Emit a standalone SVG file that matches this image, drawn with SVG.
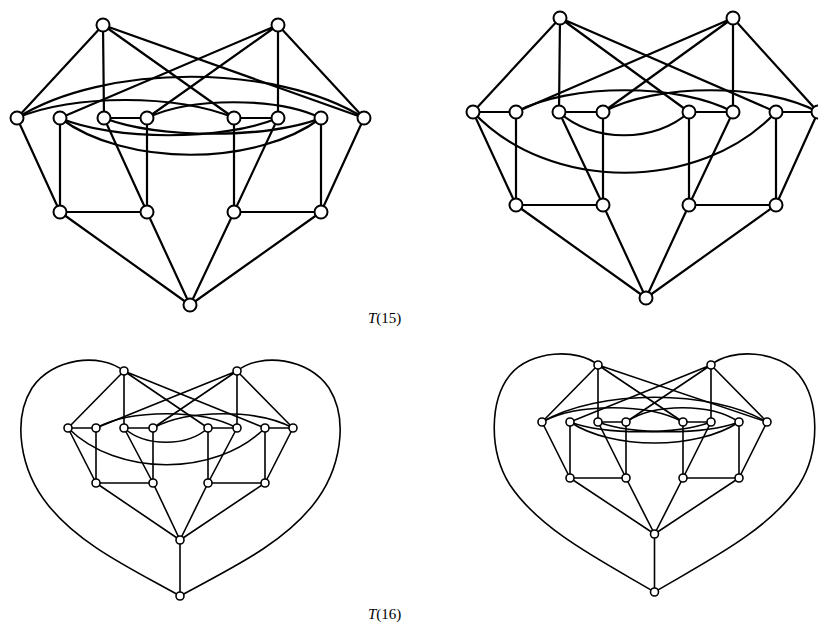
<svg xmlns="http://www.w3.org/2000/svg" width="818" height="628" viewBox="0 0 818 628">
<style>
.bg{fill:#fff}
.e1{stroke:#000;stroke-width:2.2;fill:none;stroke-linecap:round}
.e2{stroke:#000;stroke-width:1.6;fill:none;stroke-linecap:round}
.n1{fill:#fff;stroke:#000;stroke-width:2}
.n2{fill:#fff;stroke:#000;stroke-width:1.6}
.lbl{font-family:"Liberation Serif","Times New Roman",serif;font-size:15px;fill:#000}
</style>
<rect class="bg" x="0" y="0" width="818" height="628"/>

<!-- Graph 1 (T15 left) -->
<g id="connectors-g1" class="e1">
<path d="M103,25L17,118M103,25L104,118M103,25L234,118M103,25L364,118"/>
<path d="M278,25L60,118M278,25L147,118M278,25L278,118M278,25L364,118"/>
<path d="M104,118L147,118M234,118L278,118"/>
<path d="M60,118L60,212M147,118L147,212M234,118L234,212M321,118L321,212"/>
<path d="M17,118L60,212M104,118L147,212M278,118L234,212M364,118L321,212"/>
<path d="M60,212L147,212M234,212L321,212"/>
<path d="M60,212L190,305M147,212L190,305M234,212L190,305M321,212L190,305"/>
<path d="M17,118C104,63 277,63 364,118"/>
<path d="M17,118C71,94 180,94 234,118"/>
<path d="M147,118C190,97 277,97 321,118"/>
<path d="M60,118C125,167 256,167 321,118"/>
<path d="M60,118C114,141 223,141 278,118"/>
<path d="M104,118C158,139 267,139 321,118"/>
</g>
<g id="nodes-g1" class="n1">
<circle id="g1-a" cx="103" cy="25" r="6.5"/>
<circle id="g1-b" cx="278" cy="25" r="6.5"/>
<circle id="g1-m1" cx="17" cy="118" r="6.5"/>
<circle id="g1-m2" cx="60" cy="118" r="6.5"/>
<circle id="g1-m3" cx="104" cy="118" r="6.5"/>
<circle id="g1-m4" cx="147" cy="118" r="6.5"/>
<circle id="g1-m5" cx="234" cy="118" r="6.5"/>
<circle id="g1-m6" cx="278" cy="118" r="6.5"/>
<circle id="g1-m7" cx="321" cy="118" r="6.5"/>
<circle id="g1-m8" cx="364" cy="118" r="6.5"/>
<circle id="g1-n1" cx="60" cy="212" r="6.5"/>
<circle id="g1-n2" cx="147" cy="212" r="6.5"/>
<circle id="g1-n3" cx="234" cy="212" r="6.5"/>
<circle id="g1-n4" cx="321" cy="212" r="6.5"/>
<circle id="g1-z" cx="190" cy="305" r="6.5"/>
</g>

<!-- Graph 2 (T15 right) -->
<g id="connectors-g2" class="e1">
<path d="M560,18L473,112M560,18L559,112M560,18L689,112M560,18L776,112"/>
<path d="M733,18L516,112M733,18L603,112M733,18L733,112M733,18L818,112"/>
<path d="M473,112L516,112M559,112L603,112M689,112L733,112M776,112L818,112"/>
<path d="M516,112L516,205M603,112L603,205M689,112L689,205M776,112L776,205"/>
<path d="M473,112L516,205M559,112L603,205M733,112L689,205M818,112L776,205"/>
<path d="M516,205L603,205M689,205L776,205"/>
<path d="M516,205L646,298M603,205L646,298M689,205L646,298M776,205L646,298"/>
<path d="M516,112C570,83 679,83 733,112"/>
<path d="M603,112C657,83 764,83 818,112"/>
<path d="M559,112C592,143 656,143 689,112"/>
<path d="M473,112C549,193 700,193 776,112"/>
</g>
<g id="nodes-g2" class="n1">
<circle id="g2-a" cx="560" cy="18" r="6.5"/>
<circle id="g2-b" cx="733" cy="18" r="6.5"/>
<circle id="g2-m1" cx="473" cy="112" r="6.5"/>
<circle id="g2-m2" cx="516" cy="112" r="6.5"/>
<circle id="g2-m3" cx="559" cy="112" r="6.5"/>
<circle id="g2-m4" cx="603" cy="112" r="6.5"/>
<circle id="g2-m5" cx="689" cy="112" r="6.5"/>
<circle id="g2-m6" cx="733" cy="112" r="6.5"/>
<circle id="g2-m7" cx="776" cy="112" r="6.5"/>
<circle id="g2-m8" cx="818" cy="112" r="6.5"/>
<circle id="g2-n1" cx="516" cy="205" r="6.5"/>
<circle id="g2-n2" cx="603" cy="205" r="6.5"/>
<circle id="g2-n3" cx="689" cy="205" r="6.5"/>
<circle id="g2-n4" cx="776" cy="205" r="6.5"/>
<circle id="g2-z" cx="646" cy="298" r="6.5"/>
</g>

<!-- Graph 3 (T16 left) -->
<g id="connectors-g3" class="e2">
<path d="M124,371C100,352 52,358 32,388C12,420 20,470 48,505C80,545 130,568 180,596"/>
<path d="M237,371C261,352 309,358 329,388C349,420 341,470 313,505C281,545 231,568 180,596"/>
<path d="M180,540L180,596"/>
<path d="M124,371L68,428M124,371L124,428M124,371L208,428M124,371L265,428"/>
<path d="M237,371L96,428M237,371L153,428M237,371L237,428M237,371L293,428"/>
<path d="M68,428L96,428M124,428L153,428M208,428L237,428M265,428L293,428"/>
<path d="M96,428L96,483M153,428L153,483M208,428L208,483M265,428L265,483"/>
<path d="M68,428L96,483M124,428L153,483M237,428L208,483M293,428L265,483"/>
<path d="M96,483L153,483M208,483L265,483"/>
<path d="M96,483L180,540M153,483L180,540M208,483L180,540M265,483L180,540"/>
<path d="M96,428C131,409 202,409 237,428"/>
<path d="M153,428C188,409 258,409 293,428"/>
<path d="M124,428C145,447 187,447 208,428"/>
<path d="M68,428C117,477 216,477 265,428"/>
</g>
<g id="nodes-g3" class="n2">
<circle id="g3-a" cx="124" cy="371" r="4"/>
<circle id="g3-b" cx="237" cy="371" r="4"/>
<circle id="g3-m1" cx="68" cy="428" r="4"/>
<circle id="g3-m2" cx="96" cy="428" r="4"/>
<circle id="g3-m3" cx="124" cy="428" r="4"/>
<circle id="g3-m4" cx="153" cy="428" r="4"/>
<circle id="g3-m5" cx="208" cy="428" r="4"/>
<circle id="g3-m6" cx="237" cy="428" r="4"/>
<circle id="g3-m7" cx="265" cy="428" r="4"/>
<circle id="g3-m8" cx="293" cy="428" r="4"/>
<circle id="g3-n1" cx="96" cy="483" r="4"/>
<circle id="g3-n2" cx="153" cy="483" r="4"/>
<circle id="g3-n3" cx="208" cy="483" r="4"/>
<circle id="g3-n4" cx="265" cy="483" r="4"/>
<circle id="g3-z" cx="180" cy="540" r="4"/>
<circle id="g3-w" cx="180" cy="596" r="4"/>
</g>

<!-- Graph 4 (T16 right) -->
<g id="connectors-g4" class="e2">
<path d="M598,365C578,348 530,350 510,375C490,400 488,450 510,485C540,530 600,560 654.5,592"/>
<path d="M711,365C731,348 779,350 799,375C819,400 821,450 799,485C769,530 709,560 654.5,592"/>
<path d="M654.5,534L654.5,592"/>
<path d="M598,365L542,422M598,365L598,422M598,365L683,422M598,365L767,422"/>
<path d="M711,365L570,422M711,365L626,422M711,365L711,422M711,365L767,422"/>
<path d="M598,422L626,422M683,422L711,422"/>
<path d="M570,422L570,478M626,422L626,478M683,422L683,478M739,422L739,478"/>
<path d="M542,422L570,478M598,422L626,478M711,422L683,478M767,422L739,478"/>
<path d="M570,478L626,478M683,478L739,478"/>
<path d="M570,478L654.5,534M626,478L654.5,534M683,478L654.5,534M739,478L654.5,534"/>
<path d="M542,422C598,389 711,389 767,422"/>
<path d="M542,422C577,403 648,403 683,422"/>
<path d="M626,422C654,403 711,403 739,422"/>
<path d="M570,422C612,450 697,450 739,422"/>
<path d="M570,422C605,435 676,435 711,422"/>
<path d="M598,422C633,435 704,435 739,422"/>
</g>
<g id="nodes-g4" class="n2">
<circle id="g4-a" cx="598" cy="365" r="4"/>
<circle id="g4-b" cx="711" cy="365" r="4"/>
<circle id="g4-m1" cx="542" cy="422" r="4"/>
<circle id="g4-m2" cx="570" cy="422" r="4"/>
<circle id="g4-m3" cx="598" cy="422" r="4"/>
<circle id="g4-m4" cx="626" cy="422" r="4"/>
<circle id="g4-m5" cx="683" cy="422" r="4"/>
<circle id="g4-m6" cx="711" cy="422" r="4"/>
<circle id="g4-m7" cx="739" cy="422" r="4"/>
<circle id="g4-m8" cx="767" cy="422" r="4"/>
<circle id="g4-n1" cx="570" cy="478" r="4"/>
<circle id="g4-n2" cx="626" cy="478" r="4"/>
<circle id="g4-n3" cx="683" cy="478" r="4"/>
<circle id="g4-n4" cx="739" cy="478" r="4"/>
<circle id="g4-z" cx="654.5" cy="534" r="4"/>
<circle id="g4-w" cx="654.5" cy="592" r="4"/>
</g>

<g id="labels" class="lbl">
<text x="368" y="323"><tspan font-style="italic">T</tspan>(15)</text>
<text x="368" y="619"><tspan font-style="italic">T</tspan>(16)</text>
</g>
</svg>
